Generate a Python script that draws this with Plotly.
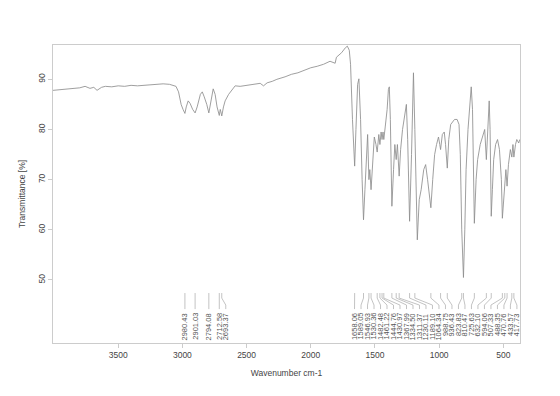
import plotly.graph_objects as go

# Spectrum points (wavenumber, transmittance %)
wavenumber = [4008, 3950, 3900, 3850, 3800, 3758, 3720, 3690, 3665, 3630, 3600, 3550, 3500, 3450,
              3400, 3350, 3300, 3250, 3200, 3150, 3100, 3070, 3050, 3030, 3010, 2995, 2980.43, 2970,
              2955, 2940, 2920, 2901.03, 2885, 2860, 2845, 2830, 2810, 2794.08, 2780, 2760, 2745,
              2730, 2712.58, 2705, 2700, 2693.37, 2680, 2667, 2640, 2614, 2589, 2550, 2497, 2450,
              2394, 2368, 2340, 2300, 2264, 2200, 2150, 2100, 2050, 2000, 1950, 1900, 1850, 1810,
              1800, 1760, 1730, 1715, 1700, 1690, 1675, 1658.06, 1648, 1635, 1625, 1612, 1600,
              1589.05, 1578, 1565, 1557, 1546.93, 1540, 1530.36, 1518, 1505, 1492, 1482.48, 1470,
              1461.22, 1452, 1444.76, 1437, 1430.97, 1420, 1405, 1395, 1388, 1380, 1367.99, 1355,
              1345, 1334.50, 1325, 1311.37, 1300, 1285, 1265, 1255, 1245, 1230.11, 1215, 1200,
              1189.10, 1170, 1155, 1140, 1120, 1105, 1090, 1064.34, 1050, 1035, 1020, 1005, 995,
              988.75, 975, 960, 950, 936.43, 925, 910, 880, 860, 845, 835, 823.83, 815, 810.47,
              800, 790, 775, 760, 750, 740, 725.63, 712, 700, 680, 660, 645, 632.10, 620, 610, 603,
              594.06, 585, 575, 560, 545, 530, 515, 507.33, 497, 488.35, 480, 470.76, 460, 445,
              433.57, 425, 417.73, 405, 395, 380, 372]
transmittance = [87.8, 87.9, 88.0, 88.1, 88.3, 88.6, 88.2, 88.4, 87.8, 88.4, 88.6, 88.5, 88.7, 88.6,
                 88.8, 88.7, 88.8, 88.8, 88.9, 89.1, 89.0, 88.8, 88.6, 87.5, 85.0, 84.0, 83.2, 84.5,
                 85.7, 85.2, 84.0, 83.3, 84.5, 87.0, 87.5, 86.5, 85.0, 83.3, 85.5, 88.1, 87.0,
                 84.5, 82.8, 84.0, 83.5, 82.7, 84.5, 85.7, 87.0, 88.0, 88.7, 88.6, 88.8, 89.1,
                 89.2, 88.7, 89.3, 89.6, 90.0, 90.5, 91.0, 91.3, 91.8, 92.3, 92.6, 93.0, 93.6, 93.2,
                 94.4, 95.3, 96.3, 96.6, 95.8, 93.0, 82.0, 72.7, 80.0, 89.0, 90.1, 82.0, 70.0,
                 62.0, 68.0, 77.0, 79.0, 70.0, 72.0, 68.0, 74.0, 78.5, 77.0, 75.5, 79.0,
                 77.0, 79.5, 78.0, 79.5, 78.0, 80.5, 84.0, 88.0, 88.5, 82.0, 64.7, 72.0,
                 77.0, 74.0, 77.0, 70.7, 76.0, 80.0, 84.0, 85.0, 78.0, 61.7, 75.0, 91.3,
                 80.0, 58.0, 66.0, 68.0, 72.0, 73.0, 70.0, 64.4, 70.0, 75.0, 77.0, 78.5, 77.0,
                 76.0, 79.0, 79.5, 77.0, 72.3, 78.0, 81.0, 82.0, 82.0, 81.0, 75.0, 60.0, 54.0, 50.5,
                 60.0, 72.0, 80.0, 86.0, 88.5, 84.0, 61.3, 70.0, 74.0, 77.0, 79.0, 80.0, 74.0, 80.0, 85.7, 80.0,
                 62.7, 68.0, 74.0, 77.0, 78.0, 76.0, 70.0, 62.3, 66.0, 67.0, 72.0, 68.7, 73.0, 76.0,
                 74.5, 77.0, 74.5, 77.0, 78.0, 77.3, 78.0]

# Labelled peaks
peak_positions = [2980.43, 2901.03, 2794.08, 2712.58, 2693.37,
                  1658.06, 1589.05, 1546.93, 1530.36, 1482.48, 1461.22, 1444.76, 1430.97,
                  1367.99, 1334.50, 1311.37, 1230.11, 1189.10, 1064.34, 988.75, 936.43,
                  823.83, 810.47, 725.63, 632.10, 594.06, 507.33, 488.35, 470.76, 433.57, 417.73]
peak_labels = ["%.2f" % p for p in peak_positions]

x_range = [4008, 370]
y_range = [37.44, 96.84]

fig = go.Figure()
fig.add_trace(go.Scatter(x=wavenumber, y=transmittance, mode="lines",
                         line=dict(color="#8e8e8e", width=0.85), hoverinfo="skip"))

# spread labels so they do not overlap: forward sweep then backward sweep with a right bound
min_gap = 50.6
right_bound = 394.0
pos = list(peak_positions)
for i in range(1, len(pos)):
    pos[i] = min(pos[i], pos[i - 1] - min_gap)
pos[-1] = max(pos[-1], right_bound)
for i in range(len(pos) - 2, -1, -1):
    pos[i] = max(pos[i], pos[i + 1] + min_gap)

y_top, y_knee1, y_knee2, y_end, y_text = 47.4, 46.4, 45.0, 44.2, 43.8
for p, lp, lab in zip(peak_positions, pos, peak_labels):
    fig.add_trace(go.Scatter(x=[p, p, lp, lp], y=[y_top, y_knee1, y_knee2, y_end],
                             mode="lines", line=dict(color="#b4b4b4", width=0.8),
                             hoverinfo="skip"))
    fig.add_annotation(x=lp, y=y_text, text=lab, textangle=-90, showarrow=False,
                       xanchor="center", yanchor="top",
                       font=dict(size=7.5, color="#555555", family="Liberation Sans, Arial"))

fig.update_layout(
    width=560, height=396, showlegend=False,
    margin=dict(l=53, r=40, t=45, b=53),
    paper_bgcolor="white", plot_bgcolor="white",
    font=dict(family="Liberation Sans, Arial", size=8.5, color="#444444"),
)
fig.update_xaxes(range=x_range, tickvals=[3500, 3000, 2500, 2000, 1500, 1000, 500],
                 showgrid=False, zeroline=False, showline=True, mirror=True,
                 linecolor="#cccccc", linewidth=1, ticks="outside", ticklen=4,
                 tickcolor="#cccccc", title=dict(text="Wavenumber cm-1", standoff=10,
                                                font=dict(size=8.5)))
fig.update_yaxes(range=y_range, tickvals=[50, 60, 70, 80, 90], tickangle=-90,
                 showgrid=False, zeroline=False, showline=True, mirror=True,
                 linecolor="#cccccc", linewidth=1, ticks="outside", ticklen=4,
                 tickcolor="#cccccc", title=dict(text="Transmittance [%]", standoff=9,
                                                font=dict(size=8.5)))

fig.write_html("out.html")
